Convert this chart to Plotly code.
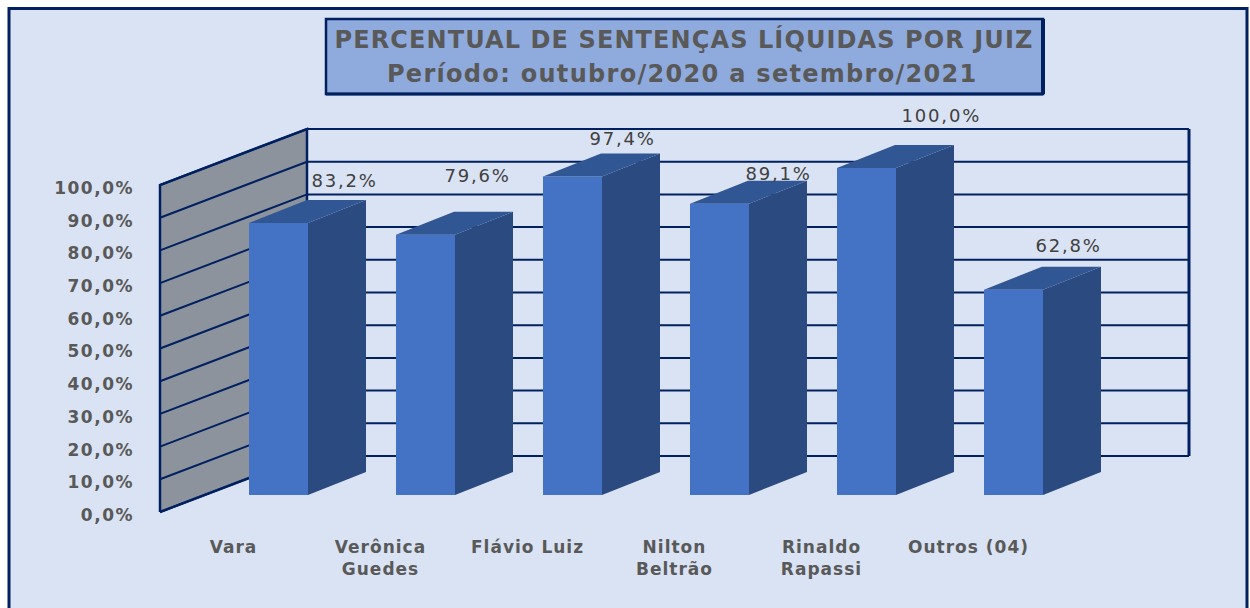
import plotly.graph_objects as go

# Data
categories = ["Vara", "Verônica<br>Guedes", "Flávio Luiz", "Nilton<br>Beltrão", "Rinaldo<br>Rapassi", "Outros (04)"]
values = [83.2, 79.6, 97.4, 89.1, 100.0, 62.8]
value_labels = ["83,2%", "79,6%", "97,4%", "89,1%", "100,0%", "62,8%"]
y_ticks = [0, 10, 20, 30, 40, 50, 60, 70, 80, 90, 100]
y_tick_labels = ["0,0%", "10,0%", "20,0%", "30,0%", "40,0%", "50,0%", "60,0%", "70,0%", "80,0%", "90,0%", "100,0%"]

# Page geometry and the oblique projection (pixels)
W, H = 1250, 608
PX_PER_CAT = 147.0
PX_PER_PCT = 3.27
CAT0_PX = 278.5       # first bar centre
BAR_BASE_PX = 495     # y pixel of 0 % on the bars' front plane
WALL_BASE_PX = 512    # y pixel of 0 % on the front edge of the wall
WALL_FRONT_PX = 160
WALL_BACK_PX = 307
WALL_RIGHT_PX = 1189
WALL_DEPTH_RISE = 56
BAR_WIDTH_PX = 59
BAR_DEPTH_X = 58
BAR_DEPTH_Y = 23

NAVY = "#002060"
GREY = "#595959"
LABEL_DX = [66, 52, 50, 59, 75, 55]
LABEL_DY = [42, 59, 38, 30, 53, 44]


def cx(px):
    return (px - CAT0_PX) / PX_PER_CAT


xr = [cx(0), cx(W)]
y_wall_range = [(WALL_BASE_PX - H) / PX_PER_PCT, WALL_BASE_PX / PX_PER_PCT]
y_bar_range = [(BAR_BASE_PX - H) / PX_PER_PCT, BAR_BASE_PX / PX_PER_PCT]

fig = go.Figure()

# Side wall (on the axis whose zero is the front edge)
rise = WALL_DEPTH_RISE / PX_PER_PCT
xf, xb, xe = cx(WALL_FRONT_PX), cx(WALL_BACK_PX), cx(WALL_RIGHT_PX)
top = y_ticks[-1]
fig.add_trace(go.Scatter(
    x=[xf, xb, xb, xf, xf], y=[0, rise, top + rise, top, 0],
    mode="lines", fill="toself", fillcolor="#8c939c",
    line=dict(color=NAVY, width=2.5), hoverinfo="skip", showlegend=False))
for v in y_ticks:
    fig.add_trace(go.Scatter(
        x=[xf, xb, xe], y=[v, v + rise, v + rise], mode="lines",
        line=dict(color=NAVY, width=2), hoverinfo="skip", showlegend=False))
fig.add_trace(go.Scatter(
    x=[xe, xe], y=[rise, top + rise], mode="lines",
    line=dict(color=NAVY, width=3), hoverinfo="skip", showlegend=False))

# Bars: front faces through the bar trace, side and top faces derived from the values
idx = list(range(len(values)))
fig.add_trace(go.Bar(
    x=idx, y=values, width=BAR_WIDTH_PX / PX_PER_CAT,
    marker=dict(color="#4472c4", line=dict(width=0)),
    xaxis="x", yaxis="y2", hoverinfo="skip", showlegend=False))
half = BAR_WIDTH_PX / PX_PER_CAT / 2
ddx = BAR_DEPTH_X / PX_PER_CAT
ddy = BAR_DEPTH_Y / PX_PER_PCT
for i, v in zip(idx, values):
    r = i + half
    l = i - half
    fig.add_trace(go.Scatter(
        x=[r, r + ddx, r + ddx, r, r], y=[0, ddy, v + ddy, v, 0],
        mode="lines", fill="toself", fillcolor="#2b4a7f", line=dict(width=0),
        xaxis="x", yaxis="y2", hoverinfo="skip", showlegend=False))
    fig.add_trace(go.Scatter(
        x=[l, r, r + ddx, l + ddx, l], y=[v, v, v + ddy, v + ddy, v],
        mode="lines", fill="toself", fillcolor="#315694", line=dict(width=0),
        xaxis="x", yaxis="y2", hoverinfo="skip", showlegend=False))

annotations = []
for i, v, t, dx, dy in zip(idx, values, value_labels, LABEL_DX, LABEL_DY):
    annotations.append(dict(
        x=i, y=v, xref="x", yref="y2", text=t, showarrow=False,
        xshift=dx, yshift=dy, font=dict(family="DejaVu Sans", size=18, color="#404040")))
annotations.append(dict(
    x=682 / W, y=1 - 74 / H, xref="paper", yref="paper", text="<b>Período: outubro/2020 a setembro/2021</b>",
    showarrow=False, xanchor="center", yanchor="middle",
    font=dict(family="DejaVu Sans", size=24, color=GREY)))

shapes = [
    dict(type="rect", xref="paper", yref="paper", layer="below",
         x0=9 / W, x1=1247 / W, y0=-0.02, y1=1 - 8.5 / H,
         fillcolor="#dae3f3", line=dict(color=NAVY, width=3)),
    dict(type="rect", xref="paper", yref="paper", layer="above",
         x0=326 / W, x1=1043 / W, y0=1 - 94 / H, y1=1 - 19 / H,
         fillcolor="#8faadc", line=dict(color=NAVY, width=2.5)),
    dict(type="line", xref="paper", yref="paper", layer="above",
         x0=1043 / W, x1=1043 / W, y0=1 - 94 / H, y1=1 - 19 / H,
         line=dict(color=NAVY, width=4)),
    dict(type="line", xref="paper", yref="paper", layer="above",
         x0=326 / W, x1=1043 / W, y0=1 - 94 / H, y1=1 - 94 / H,
         line=dict(color=NAVY, width=3)),
]

fig.update_layout(
    width=W, height=H, margin=dict(l=0, r=0, t=0, b=0),
    paper_bgcolor="white", plot_bgcolor="rgba(0,0,0,0)",
    barmode="overlay", showlegend=False,
    title=dict(
        text="<b>PERCENTUAL DE SENTENÇAS LÍQUIDAS POR JUIZ</b>",
        x=684 / W, y=1 - 40 / H, xanchor="center", yanchor="middle",
        font=dict(family="DejaVu Sans", size=24, color=GREY)),
    xaxis=dict(range=xr, domain=[0, 1], anchor="free", position=1 - 535 / H,
               tickmode="array", tickvals=idx, ticktext=categories,
               ticklabelshift=-45, showgrid=False, zeroline=False, showline=False, ticks="",
               tickfont=dict(family="DejaVu Sans", size=17, color=GREY, weight="bold")),
    yaxis=dict(range=y_wall_range, domain=[0, 1], anchor="free", position=134 / W,
               tickmode="array", tickvals=y_ticks, ticktext=y_tick_labels,
               ticklabelshift=3, showgrid=False, zeroline=False, showline=False, ticks="",
               tickfont=dict(family="DejaVu Sans", size=17, color=GREY, weight="bold")),
    yaxis2=dict(range=y_bar_range, domain=[0, 1], overlaying="y", anchor="x", visible=False),
    shapes=shapes, annotations=annotations,
)

# The page margin is removed and the text is spaced out a little, as in the reference.
css = (
    "body{margin:0}"
    ".gtitle{letter-spacing:1.1px}"
    ".annotation-text{letter-spacing:1.8px}"
    ".annotation[data-index='6'] .annotation-text{letter-spacing:1.3px}"
    ".xtick text{letter-spacing:1px}"
    ".ytick text{letter-spacing:1.5px}"
)
post_script = (
    "var s=document.createElement('style');s.textContent=%r;document.head.appendChild(s);" % css
)
fig.write_html("out.html", post_script=post_script, config=dict(displayModeBar=False))
